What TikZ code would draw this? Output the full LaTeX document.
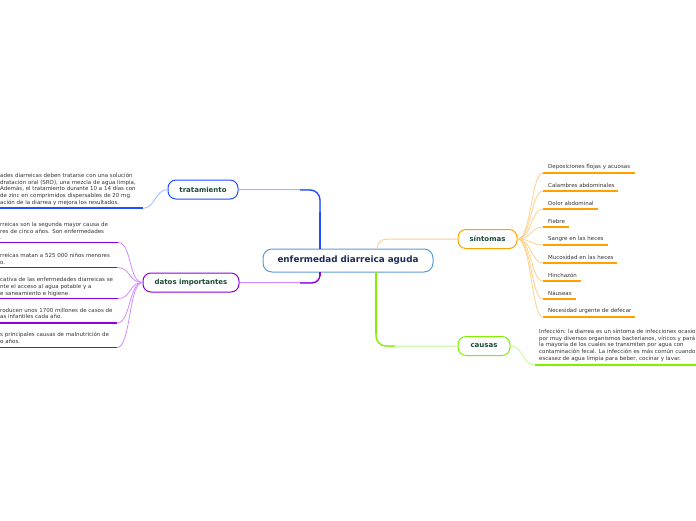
\documentclass[tikz,border=0pt]{standalone}
\usepackage{fontspec}
\setmainfont{DejaVu Sans}
\definecolor{cblue}{HTML}{1F4FFF}
\definecolor{cbluel}{HTML}{A8B8FF}
\definecolor{cpurp}{HTML}{8C00DC}
\definecolor{cpurpl}{HTML}{D08CFF}
\definecolor{corange}{HTML}{FFA200}
\definecolor{corangel}{HTML}{FFD08A}
\definecolor{cgreen}{HTML}{80F000}
\definecolor{cgreenl}{HTML}{C2F790}
\definecolor{cmain}{HTML}{5B9BD5}
\definecolor{cnavy}{HTML}{1C2B57}
\definecolor{cteal}{HTML}{1B4A3A}
\definecolor{ctext}{HTML}{333333}
\begin{document}
\begin{tikzpicture}[x=1pt,y=-1pt,
 mainbox/.style={draw=cmain,line width=1pt,fill=white,rounded corners=9pt,minimum width=170pt,minimum height=23pt,inner sep=0pt,font=\fontsize{8.8}{10}\selectfont\bfseries,text=cnavy},
 branch/.style={draw=#1,line width=1pt,fill=white,rounded corners=8pt,minimum height=19pt,inner sep=0pt,font=\fontsize{7}{8}\selectfont\bfseries,text=cteal},
 leaf/.style={anchor=west,align=left,inner sep=0pt,font=\fontsize{5.5}{6.8}\selectfont,text=ctext},
 uline/.style={line width=1.8pt,draw=#1},
 link/.style={line width=0.8pt,draw=#1},
]
\useasboundingbox (0,0) rectangle (696,520);
\clip (0,0) rectangle (696,520);

% main nodes
\node[mainbox] (central) at (348,260.5) {enfermedad diarreica aguda};
\node[branch=cblue,minimum width=70pt] (trat) at (203,189.5) {tratamiento};
\node[branch=cpurp,minimum width=96pt] (datos) at (191,282.5) {datos importantes};
\node[branch=corange,minimum width=59pt] (sint) at (487.5,239) {síntomas};
\node[branch=cgreen,minimum width=52pt] (causas) at (484,346) {causas};

% main connectors
\coordinate (ct) at (320,249);
\coordinate (ct2) at (320,212);
\coordinate (ct3) at (300,190);
\draw[cbluel,line width=1pt,rounded corners=10pt] (ct) |- (trat.east);
\draw[cblue,line width=1.3pt,rounded corners=10pt] (ct) |- (ct3);
\draw[cblue,line width=2.4pt] (ct) -- (ct2);

\coordinate (cd) at (320,272);
\coordinate (cd2) at (320,276);
\coordinate (cd3) at (300,283);
\draw[cpurpl,line width=1pt,rounded corners=8pt] (cd) |- (datos.east);
\draw[cpurp,line width=1.3pt,rounded corners=8pt] (cd) |- (cd3);
\draw[cpurp,line width=2.2pt] (cd) -- (cd2);

\coordinate (cs) at (377,249);
\draw[corangel,line width=1pt,rounded corners=10pt] (cs) |- (sint.west);

\coordinate (cc) at (376,272);
\coordinate (cc2) at (376,334);
\coordinate (cc3) at (395,346);
\draw[cgreenl,line width=1pt,rounded corners=10pt] (cc) |- (causas.west);
\draw[cgreen,line width=1.3pt,rounded corners=10pt] (cc) |- (cc3);
\draw[cgreen,line width=2.4pt] (cc) -- (cc2);

% tratamiento leaf
\node[leaf] (t1) at (0,189.3) {ades diarreicas deben tratarse con una solución\\dratación oral (SRO), una mezcla de agua limpia,\\Además, el tratamiento durante 10 a 14 días con\\de zinc en comprimidos dispersables de 20 mg\\ación de la diarrea y mejora los resultados.};
\coordinate (t1a) at (0,208.3);
\coordinate (t1b) at (143,208.3);
\draw[uline=cblue] (t1a) -- (t1b);
\draw[link=cbluel] (trat.west) .. controls +(-12,0) and +(12,0) .. (t1b);

% datos leaves
\node[leaf] (d1) at (0,231) {rreicas son la segunda mayor causa de\\res de cinco años. Son enfermedades\\.};
\coordinate (d1a) at (0,242.5);
\coordinate (d1b) at (118,242.5);
\node[leaf] (d2) at (0,258.5) {rreicas matan a 525 000 niños menores\\o.};
\coordinate (d2a) at (0,267.5);
\coordinate (d2b) at (117,267.5);
\node[leaf] (d3) at (0,287) {cativa de las enfermedades diarreicas se\\nte el acceso al agua potable y a\\e saneamiento e higiene.};
\coordinate (d3a) at (0,298.5);
\coordinate (d3b) at (118,298.5);
\node[leaf] (d4) at (0,313.5) {roducen unos 1700 millones de casos de\\as infantiles cada año.};
\coordinate (d4a) at (0,323);
\coordinate (d4b) at (117,323);
\node[leaf] (d5) at (0,337.5) {s principales causas de malnutrición de\\o años.};
\coordinate (d5a) at (0,347.5);
\coordinate (d5b) at (117,347.5);
\foreach \i in {1,...,5}{
  \draw[uline=cpurp] (d\i a) -- (d\i b);
  \draw[link=cpurpl] (datos.west) .. controls +(-14,0) and +(14,0) .. (d\i b);
}

% sintomas leaves
\foreach \i/\y/\e/\t in {1/167/635/Deposiciones flojas y acuosas,2/185/618/Calambres abdominales,3/203/598/Dolor abdominal,4/221/569/Fiebre,5/239/608/Sangre en las heces,6/257/617/Mucosidad en las heces,7/275/581/Hinchazón,8/293/576/Náuseas,9/311/635/Necesidad urgente de defecar}{
  \node[leaf] (s\i) at (548,\y) {\t};
  \coordinate (s\i a) at (543,\y+6);
  \coordinate (s\i b) at (\e,\y+6);
  \draw[uline=corange] (s\i a) -- (s\i b);
  \draw[link=corangel] (sint.east) .. controls +(14,0) and +(-12,0) .. (s\i a);
}

% causas leaf
\node[leaf] (c1) at (539,345.3) {Infección: la diarrea es un síntoma de infecciones ocasio\\por muy diversos organismos bacterianos, víricos y pará\\la mayoría de los cuales se transmiten por agua con\\contaminación fecal. La infección es más común cuando\\escasez de agua limpia para beber, cocinar y lavar.};
\coordinate (c1a) at (535,365);
\coordinate (c1b) at (696,365);
\draw[uline=cgreen] (c1a) -- (c1b);
\draw[link=cgreenl] (causas.east) .. controls +(13,0) and +(-13,0) .. (c1a);
\end{tikzpicture}
\end{document}
